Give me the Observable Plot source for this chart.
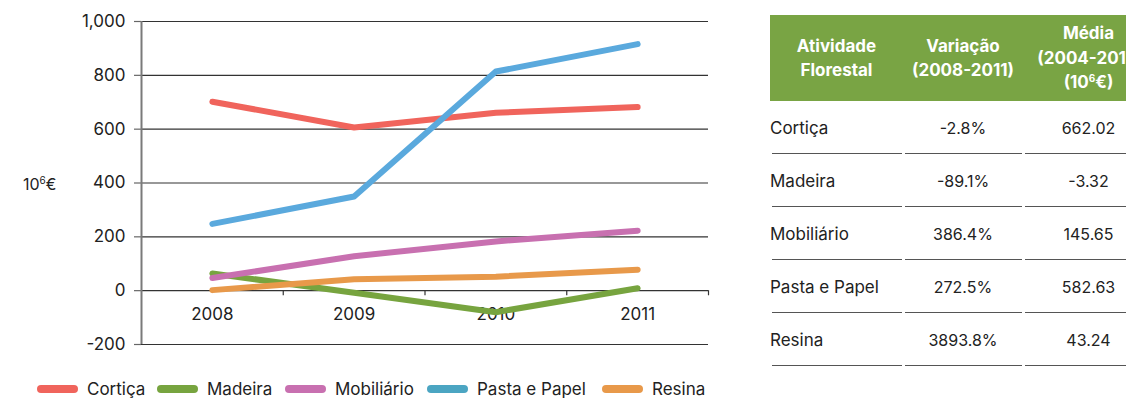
<!DOCTYPE html>
<html><head><meta charset="utf-8">
<script src="https://cdn.jsdelivr.net/npm/d3@7"></script>
<script src="https://cdn.jsdelivr.net/npm/@observablehq/plot@0.6"></script>
<style>
body{margin:0;background:#fff;font-family:Inter,"Open Sans",sans-serif;color:#222;width:1126px;height:398px;overflow:hidden;position:relative}
#chart{position:absolute;left:0;top:0}
#ylab{position:absolute;left:23px;top:174px;font-size:16px;color:#222}
#ylab sup{font-size:10px;vertical-align:6px;line-height:0}
#legend{position:absolute;left:0;top:378px;width:740px;height:22px;font-size:17px;color:#222;white-space:nowrap}
#legend .sw{display:inline-block;width:41px;height:8px;border-radius:4px;margin-right:9px}
#legend .it{position:absolute;top:0;display:flex;align-items:center;height:22px}
table{position:absolute;left:770px;top:15px;border-collapse:collapse;table-layout:fixed;width:384px}
th{background:#79a444;color:#fff;font-weight:700;font-size:17px;line-height:24.5px;height:86px;padding:0;text-align:center}
th sup{font-size:10px;vertical-align:6px;line-height:0}
td{height:53px;padding:0;font-size:16px;text-align:center;background:linear-gradient(#555,#555) no-repeat center bottom;background-size:calc(100% - 3px) 1.5px}
td.n{text-align:left;font-size:17px}
</style></head>
<body>
<div id="chart"></div>
<div id="ylab">10<sup>6</sup>€</div>
<div id="legend"></div>
<table id="tbl"></table>
<script>
const years = [2008, 2009, 2010, 2011];
const series = ["Cortiça", "Madeira", "Mobiliário", "Pasta e Papel", "Resina"];
const cortica = [702, 606, 661, 682];
const madeira = [64, -8, -80, 9];
const mobiliario = [47, 128, 183, 223];
const pastaPapel = [248, 350, 814, 916];
const resina = [2, 42, 52, 78];
const lineColors = ["#f0645c", "#77a43f", "#c870b0", "#5aa9dd", "#e8994a"];
const legendColors = ["#f0645c", "#77a43f", "#c870b0", "#4ba5c2", "#e8994a"];
const yTicks = [-200, 0, 200, 400, 600, 800, 1000];
const xBounds = [2007.5, 2008.5, 2009.5, 2010.5, 2011.5];

const tableHeader = ["Atividade<br>Florestal", "Variação<br>(2008-2011)", "Média<br>(2004-2011)<br>(10<sup>6</sup>€)"];
const tableActivities = ["Cortiça", "Madeira", "Mobiliário", "Pasta e Papel", "Resina"];
const tableVariacao = ["-2.8%", "-89.1%", "386.4%", "272.5%", "3893.8%"];
const tableMedia = ["662.02", "-3.32", "145.65", "582.63", "43.24"];

const valuesBySeries = [cortica, madeira, mobiliario, pastaPapel, resina];
const data = [];
series.forEach((s, i) => years.forEach((y, j) => data.push({series: s, year: y, value: valuesBySeries[i][j]})));

const fmt = d => d.toLocaleString("en-US");

const plot = Plot.plot({
  width: 720, height: 362,
  marginLeft: 141, marginRight: 12, marginTop: 21, marginBottom: 18,
  style: {fontFamily: "Inter, 'Open Sans', sans-serif", color: "#222", background: "transparent"},
  x: {domain: [2007.5, 2011.5], axis: null},
  y: {domain: [-200, 1000], axis: null},
  color: {domain: series, range: lineColors},
  marks: [
    Plot.gridY(yTicks, {stroke: "#333", strokeOpacity: 1, strokeWidth: 1.2}),
    Plot.axisY(yTicks, {label: null, tickSize: 7, tickPadding: 9, tickFormat: fmt, fontSize: 17, fontVariant: "normal", stroke: "#666", strokeWidth: 1.2}),
    Plot.ruleX([xBounds[0]], {stroke: "#7a7a7a", strokeWidth: 2}),
    Plot.ruleX(xBounds.slice(1), {y1: 0, y2: -19, stroke: "#333", strokeWidth: 1.2}),
    Plot.text(years, {x: d => d, y: 0, dy: 24, text: d => String(d), fontSize: 17, fill: "#222"}),
    Plot.lineY(data, {x: "year", y: "value", z: "series", stroke: "series", strokeWidth: 6, strokeLinecap: "round", strokeLinejoin: "round"})
  ]
});
document.getElementById("chart").appendChild(plot);

const legend = document.getElementById("legend");
const legendX = [37, 157, 285, 427, 602];
series.forEach((s, i) => {
  const it = document.createElement("div");
  it.className = "it";
  it.style.left = legendX[i] + "px";
  it.innerHTML = `<span class="sw" style="background:${legendColors[i]}"></span><span>${s}</span>`;
  legend.appendChild(it);
});

const tbl = document.getElementById("tbl");
let html = `<colgroup><col style="width:133px"><col style="width:120px"><col style="width:131px"></colgroup>`;
html += "<tr>" + tableHeader.map(h => `<th>${h}</th>`).join("") + "</tr>";
tableActivities.forEach((a, i) => {
  html += `<tr><td class="n">${a}</td><td>${tableVariacao[i]}</td><td>${tableMedia[i]}</td></tr>`;
});
tbl.innerHTML = html;
</script>
</body></html>
